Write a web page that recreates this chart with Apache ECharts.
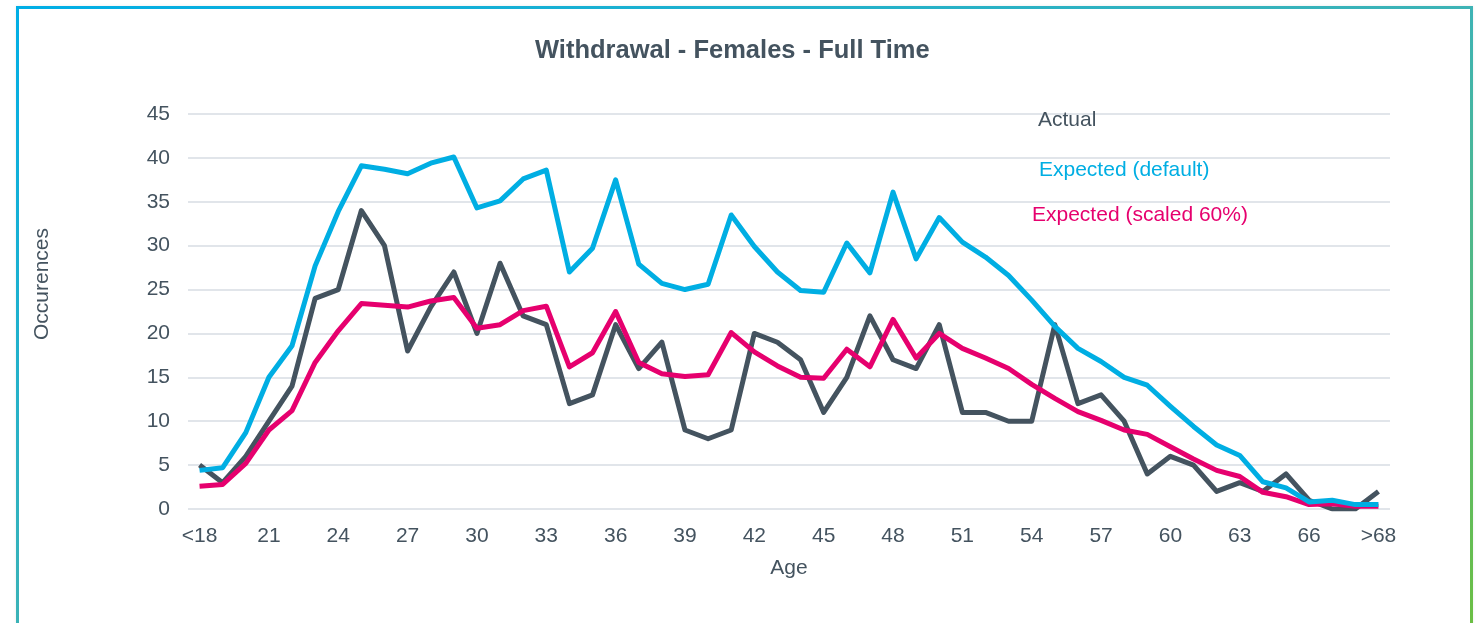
<!DOCTYPE html>
<html>
<head>
<meta charset="utf-8">
<script src="https://cdn.jsdelivr.net/npm/echarts@6/dist/echarts.min.js"></script>
<style>
  html, body { margin: 0; padding: 0; background: #fff; }
  #wrap { position: relative; width: 1478px; height: 623px; overflow: hidden; }
  #frame {
    position: absolute; left: 16px; top: 6px; width: 1451px; height: 640px;
    border: 3px solid; border-image: linear-gradient(to bottom right, #00aee6, #3db3b5 50%, #6dbf3f) 1;
    box-shadow: 0 0 3px rgba(0,0,0,0.08);
  }
  #main { position: absolute; left: 0; top: 0; width: 1478px; height: 623px; }
</style>
</head>
<body>
<div id="wrap">
  <div id="frame"></div>
  <div id="main"></div>
</div>
<script>
const ages = ['<18','19','20','21','22','23','24','25','26','27','28','29','30','31','32','33','34',
  '35','36','37','38','39','40','41','42','43','44','45','46','47','48','49','50','51','52','53',
  '54','55','56','57','58','59','60','61','62','63','64','65','66','67','68','>68'];

const actual = [5, 3, 6, 10, 14, 24, 25, 34, 30, 18, 23, 27, 20, 28, 22, 21, 12, 13, 21, 16,
  19, 9, 8, 9, 20, 19, 17, 11, 15, 22, 17, 16, 21, 11, 11, 10, 10, 21, 12, 13, 10, 4, 6, 5,
  2, 3, 2, 4, 1, 0, 0, 2];

const expectedDefault = [4.4, 4.7, 8.7, 15.0, 18.6, 27.7, 33.9, 39.1, 38.7, 38.2, 39.4, 40.1,
  34.3, 35.1, 37.6, 38.6, 27.0, 29.7, 37.5, 27.9, 25.7, 25.0, 25.6, 33.5, 29.9, 27.0, 24.9,
  24.7, 30.3, 26.9, 36.1, 28.5, 33.2, 30.4, 28.7, 26.6, 23.8, 20.8, 18.3, 16.8, 15.0, 14.1,
  11.7, 9.4, 7.3, 6.1, 3.1, 2.4, 0.8, 1.0, 0.5, 0.5];

const expectedScaled = [2.6, 2.8, 5.2, 9.0, 11.2, 16.7, 20.3, 23.4, 23.2, 23.0, 23.7, 24.1,
  20.6, 21.0, 22.6, 23.1, 16.2, 17.8, 22.5, 16.7, 15.4, 15.1, 15.3, 20.1, 17.9, 16.3, 15.0,
  14.9, 18.2, 16.2, 21.6, 17.2, 20.0, 18.3, 17.2, 16.0, 14.2, 12.6, 11.1, 10.1, 9.0, 8.5,
  7.1, 5.7, 4.4, 3.7, 1.9, 1.4, 0.5, 0.6, 0.3, 0.3];

const FONT = 'Arial, "Liberation Sans", sans-serif';
const TEXT = '#44535f';
const GREY = '#44535f', BLUE = '#00aee3', PINK = '#e6006e';

const chart = echarts.init(document.getElementById('main'));

const legendAt = (name, color, left, top) => ({
  data: [{name, textStyle: {color}}],
  left, top,
  orient: 'vertical',
  icon: 'none',
  itemWidth: 0,
  itemHeight: 0,
  textStyle: {fontSize: 21, fontFamily: FONT},
  selectedMode: false
});

chart.setOption({
  animation: false,
  title: {
    text: 'Withdrawal - Females - Full Time',
    left: 535,
    top: 38,
    padding: 0,
    textStyle: {fontSize: 25.5, fontWeight: 'bold', color: TEXT, fontFamily: FONT}
  },
  legend: [
    legendAt('Actual', GREY, 1028, 105),
    legendAt('Expected (default)', BLUE, 1029, 155),
    legendAt('Expected (scaled 60%)', PINK, 1022, 200)
  ],
  grid: {left: 188, right: 88, top: 114, bottom: 114, containLabel: false},
  xAxis: {
    type: 'category',
    data: ages,
    boundaryGap: true,
    name: 'Age',
    nameLocation: 'middle',
    nameGap: 49,
    nameTextStyle: {fontSize: 21, color: TEXT, fontFamily: FONT},
    axisLine: {show: false},
    axisTick: {show: false},
    axisLabel: {interval: 2, fontSize: 21, color: TEXT, fontFamily: FONT, margin: 17}
  },
  yAxis: {
    type: 'value',
    min: 0,
    max: 45,
    interval: 5,
    axisLine: {show: false},
    axisTick: {show: false},
    axisLabel: {fontSize: 21, color: TEXT, fontFamily: FONT, margin: 18},
    splitLine: {lineStyle: {color: '#e1e5ea', width: 2}}
  },
  graphic: [{
    type: 'text',
    left: 32,
    top: 228,
    rotation: Math.PI / 2,
    style: {text: 'Occurences', fontSize: 21, fill: TEXT, fontFamily: FONT}
  }],
  series: [
    {name: 'Actual', data: actual, color: GREY},
    {name: 'Expected (scaled 60%)', data: expectedScaled, color: PINK},
    {name: 'Expected (default)', data: expectedDefault, color: BLUE}
  ].map(s => ({
    ...s,
    type: 'line',
    showSymbol: false,
    symbol: 'none',
    lineStyle: {width: 5, color: s.color, join: 'round'}
  }))
});
</script>
</body>
</html>
